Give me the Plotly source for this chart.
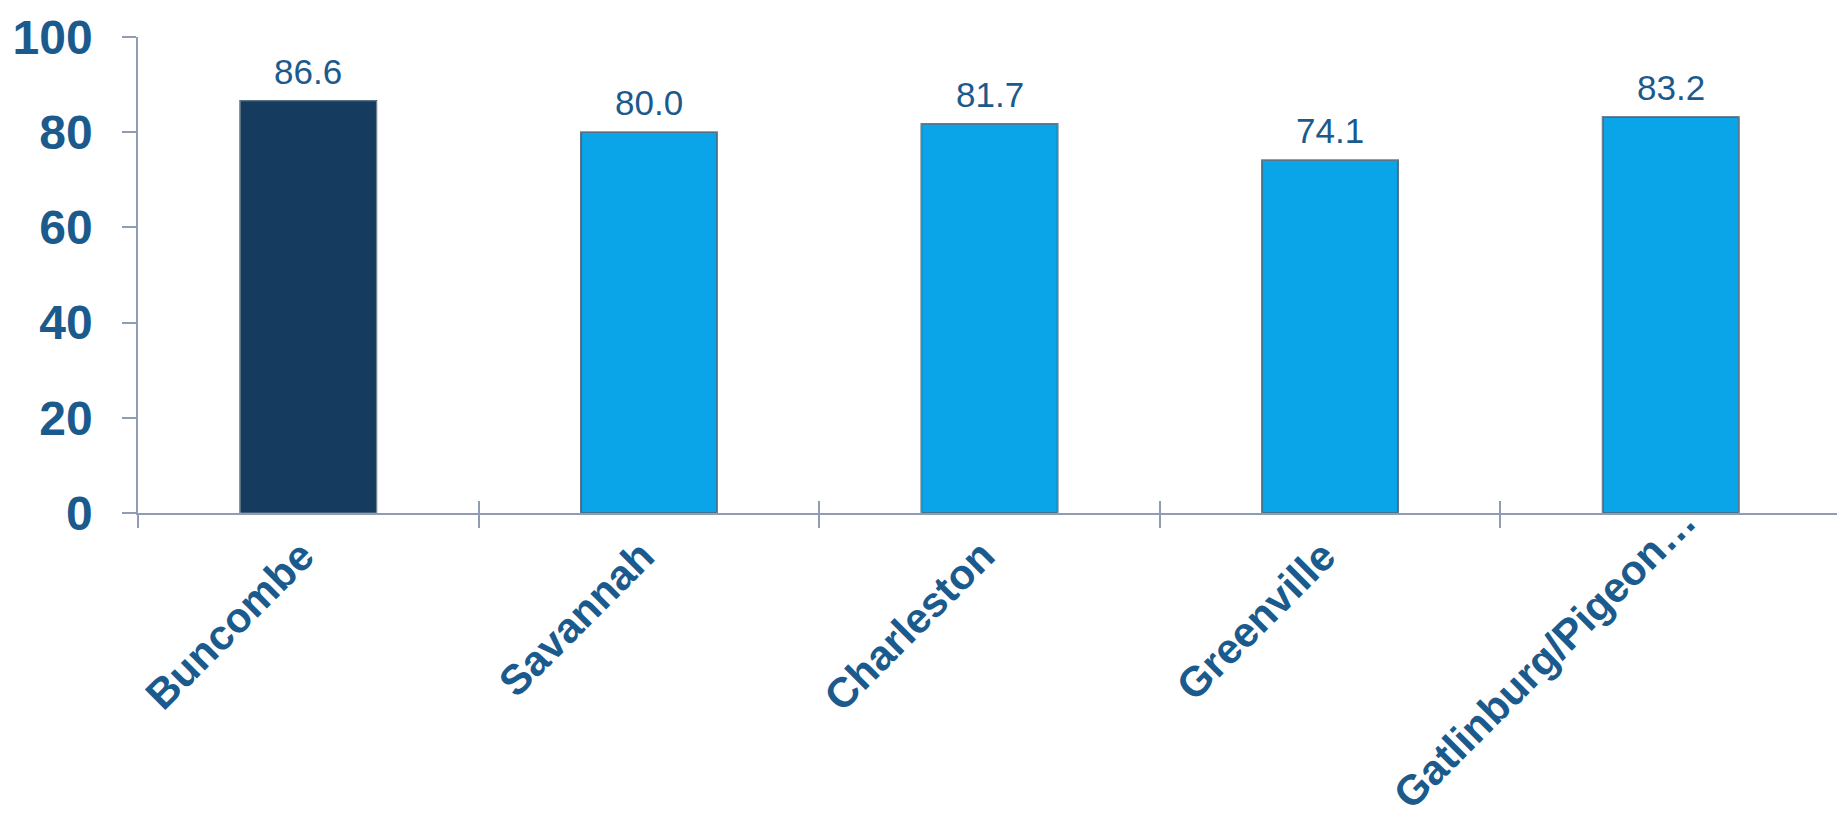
import plotly.graph_objects as go

categories = ["Buncombe", "Savannah", "Charleston", "Greenville", "Gatlinburg/Pigeon…"]
values = [86.6, 80.0, 81.7, 74.1, 83.2]
bar_colors = ["#153C5E", "#0AA5E8", "#0AA5E8", "#0AA5E8", "#0AA5E8"]
y_ticks = [0, 20, 40, 60, 80, 100]

label_color = "#1B5A8C"
axis_color = "#8E9CB4"
font_family = "Arial, Liberation Sans"

fig = go.Figure()
fig.add_trace(go.Bar(
    x=categories, y=values,
    marker=dict(color=bar_colors, line=dict(color="#0B2E46", width=1.5)),
    width=0.4,
    hoverinfo="skip",
))
# invisible trace on overlaid axis to draw inside-going ticks at category boundaries
fig.add_trace(go.Bar(
    x=categories, y=values, xaxis="x2", yaxis="y",
    marker=dict(color="rgba(0,0,0,0)"), width=0.4,
    hoverinfo="skip", showlegend=False,
))

# value labels
for c, v in zip(categories, values):
    fig.add_annotation(x=c, y=v, text=f"{v:.1f}", showarrow=False,
                       yanchor="bottom", yshift=8,
                       font=dict(family=font_family, size=35, color=label_color))

# rotated category labels (last one nudged up/right as in the original layout)
for i, c in enumerate(categories):
    last = i == len(categories) - 1
    fig.add_annotation(x=c, y=0, text=c, showarrow=False, textangle=-45,
                       xanchor="right", yanchor="top",
                       xshift=17 + (20 if last else 0), yshift=-16 + (34 if last else 0),
                       font=dict(family=font_family, size=42, color=label_color, weight="bold"))

n = len(categories)
fig.update_layout(
    width=1845, height=815,
    margin=dict(l=130, r=12, t=29, b=310),
    plot_bgcolor="white", paper_bgcolor="white",
    showlegend=False,
    barmode="overlay",
    xaxis=dict(range=[-0.5, n - 0.5], showgrid=False, showline=True, linecolor=axis_color,
               linewidth=1.5, ticks="outside", ticklen=13, tickcolor=axis_color, tickwidth=1.5,
               tickson="boundaries", showticklabels=False, automargin=False),
    xaxis2=dict(overlaying="x", matches="x", showticklabels=False, showgrid=False,
                showline=False, ticks="inside", ticklen=12, tickcolor=axis_color,
                tickwidth=1.5, tickson="boundaries", side="bottom", automargin=False),
    yaxis=dict(range=[0, 100], tickvals=y_ticks, showgrid=False, zeroline=False,
               showline=True, linecolor=axis_color, linewidth=1.5,
               ticks="outside", ticklen=14, tickcolor=axis_color, tickwidth=1.5,
               automargin=False,
               tickfont=dict(family=font_family, size=48, color=label_color, weight="bold"),
               ticklabelstandoff=20),
)

fig.write_html("out.html")
